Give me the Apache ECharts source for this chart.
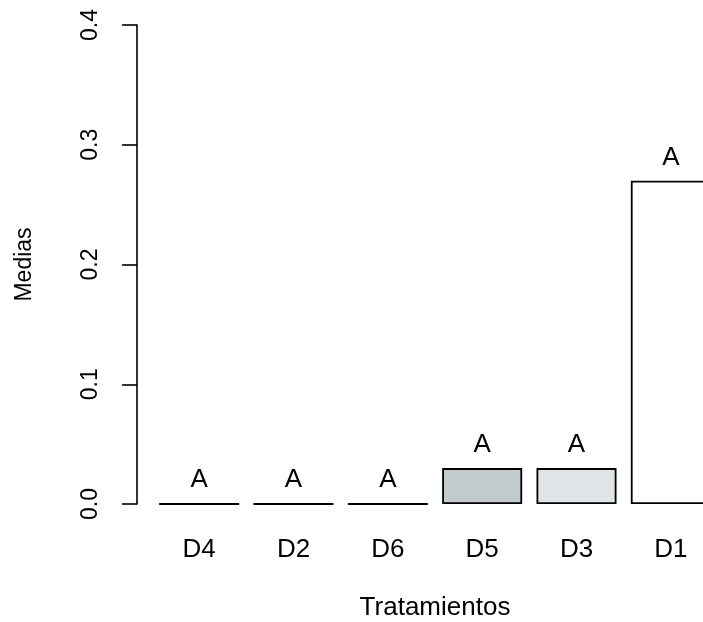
<!DOCTYPE html>
<html>
<head>
<meta charset="utf-8">
<script src="https://cdn.jsdelivr.net/npm/echarts@6/dist/echarts.min.js"></script>
<style>
html,body{margin:0;padding:0;background:#fff;}
#c{width:703px;height:622px;}
</style>
</head>
<body>
<div id="c"></div>
<script>
var categories = ['D4', 'D2', 'D6', 'D5', 'D3', 'D1'];
var means = [0, 0, 0, 0.03, 0.03, 0.27];
var letters = ['A', 'A', 'A', 'A', 'A', 'A'];
var fills = ['#ffffff', '#ffffff', '#ffffff', '#c2cbcc', '#e0e4e6', '#ffffff'];
var yTicks = [0, 0.1, 0.2, 0.3, 0.4];

var FONT = 'Liberation Sans, Arial, sans-serif';
var chart = echarts.init(document.getElementById('c'), null, {renderer: 'canvas'});
chart.setOption({
  animation: false,
  backgroundColor: '#ffffff',
  grid: {left: 152, top: 25, width: 566, height: 479, containLabel: false, outerBoundsMode: 'none'},
  xAxis: {
    type: 'category',
    data: categories,
    boundaryGap: true,
    axisLine: {show: false},
    axisTick: {show: false},
    axisLabel: {color: '#000', fontSize: 26, fontFamily: FONT, margin: 33},
    name: 'Tratamientos',
    nameLocation: 'middle',
    nameGap: 91,
    nameTextStyle: {color: '#000', fontSize: 26, fontFamily: FONT}
  },
  yAxis: {
    type: 'value',
    min: yTicks[0],
    max: yTicks[yTicks.length - 1],
    interval: 0.1,
    offset: 15,
    splitLine: {show: false},
    axisLine: {show: true, lineStyle: {color: '#000', width: 1.6}},
    axisTick: {show: true, length: 15, lineStyle: {color: '#000', width: 1.6}},
    axisLabel: {
      color: '#000', fontSize: 23, fontFamily: FONT, rotate: 90, margin: 35,
      formatter: function (v) { return v.toFixed(1); }
    },
    name: 'Medias',
    nameLocation: 'middle',
    nameGap: 101,
    nameTextStyle: {color: '#000', fontSize: 23, fontFamily: FONT}
  },
  series: [{
    type: 'bar',
    barWidth: 80,
    data: means.map(function (v, i) {
      return {value: v, itemStyle: {color: fills[i]}};
    }),
    itemStyle: {borderColor: '#000', borderWidth: 1.8},
    label: {
      show: true,
      position: 'top',
      distance: 10,
      color: '#000',
      fontSize: 26,
      fontFamily: FONT,
      formatter: function (p) { return letters[p.dataIndex]; }
    }
  }]
});
</script>
</body>
</html>
